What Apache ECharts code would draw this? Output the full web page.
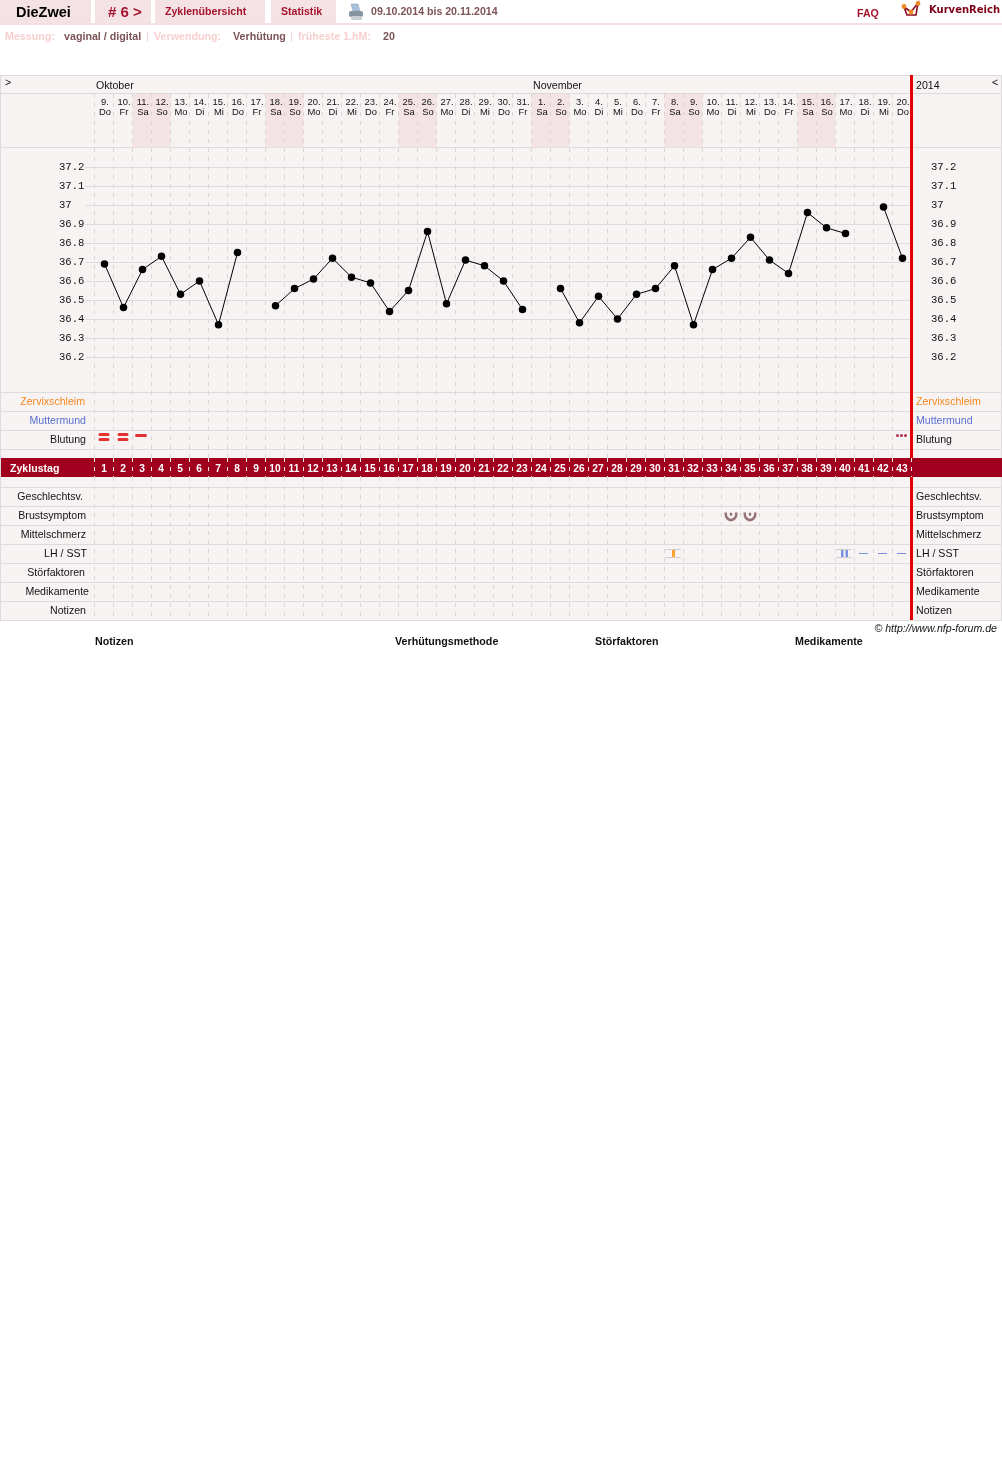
<!DOCTYPE html>
<html><head><meta charset="utf-8">
<style>html,body{margin:0;padding:0;background:#fff}#c{width:1002px;height:1480px}</style>
<script src="https://cdn.jsdelivr.net/npm/echarts@6/dist/echarts.min.js"></script>
</head><body><div id="c"></div>
<script>
const dayNums = ['9','10','11','12','13','14','15','16','17','18','19','20','21','22','23','24','25','26','27','28','29','30','31','1','2','3','4','5','6','7','8','9','10','11','12','13','14','15','16','17','18','19','20'];
const weekdays = ['Do','Fr','Sa','So','Mo','Di','Mi','Do','Fr','Sa','So','Mo','Di','Mi','Do','Fr','Sa','So','Mo','Di','Mi','Do','Fr','Sa','So','Mo','Di','Mi','Do','Fr','Sa','So','Mo','Di','Mi','Do','Fr','Sa','So','Mo','Di','Mi','Do'];
const cycleDays = ['1','2','3','4','5','6','7','8','9','10','11','12','13','14','15','16','17','18','19','20','21','22','23','24','25','26','27','28','29','30','31','32','33','34','35','36','37','38','39','40','41','42','43'];
const temperatures = [36.69,36.46,36.66,36.73,36.53,36.6,36.37,36.75,null,36.47,36.56,36.61,36.72,36.62,36.59,36.44,36.55,36.86,36.48,36.71,36.68,36.6,36.45,null,36.56,36.38,36.52,36.4,36.53,36.56,36.68,36.37,36.66,36.72,36.83,36.71,36.64,36.96,36.88,36.85,null,36.99,36.72];
const rowsUpper = ['Zervixschleim','Muttermund','Blutung'];
const rowsLower = ['Geschlechtsv.','Brustsymptom','Mittelschmerz','LH / SST','Störfaktoren','Medikamente','Notizen'];
const bleedingHeavy = ['1','2'];
const bleedingMedium = ['3'];
const bleedingSpot = ['43'];
const breastSymptom = ['34','35'];
const lhPeak = ['31'];
const lhDouble = ['40'];
const lhDash = ['41','42','43'];

const FONT = 'Liberation Sans, Arial, sans-serif';
const GRID_L = 94.5, GRID_W = 817;
const GREY = '#dcdada', BG = '#f8f3f3', SHADE = '#f3e3e5', DARK = '#a0001e', RED = '#e00000', BROWN = '#7d5358', PINK = '#f8cfcf', NAV = '#f4e2e4', NAVTXT = '#a5142c';
const labelColor = {'Zervixschleim':'#f5871f','Muttermund':'#5a70cf'};
const labelPad = {'Zervixschleim':4,'Muttermund':3,'Blutung':3,'Geschlechtsv.':6,'Brustsymptom':3,'Mittelschmerz':3,'LH / SST':2,'Störfaktoren':4,'Medikamente':0,'Notizen':3};

const SYM = {
  dbl: 'path://M1.5 0H9.5A1.5 1.5 0 0 1 9.5 3H1.5A1.5 1.5 0 0 1 1.5 0ZM1.5 5H9.5A1.5 1.5 0 0 1 9.5 8H1.5A1.5 1.5 0 0 1 1.5 5Z',
  one: 'path://M1.5 0H10.5A1.5 1.5 0 0 1 10.5 3H1.5A1.5 1.5 0 0 1 1.5 0Z',
  dots: 'path://M0 1.5A1.5 1.5 0 0 1 3 1.5A1.5 1.5 0 0 1 0 1.5ZM4 1.5A1.5 1.5 0 0 1 7 1.5A1.5 1.5 0 0 1 4 1.5ZM8 1.5A1.5 1.5 0 0 1 11 1.5A1.5 1.5 0 0 1 8 1.5Z',
  breast: 'path://M0 1L0 2.5A6.5 6.5 0 0 0 13 2.5L13 1L10.5 1L10.5 2.5A4 4 0 0 1 2.5 2.5L2.5 1ZM5.1 2.5A1.4 1.4 0 0 1 7.9 2.5A1.4 1.4 0 0 1 5.1 2.5Z',
  bracket: 'path://M0 0H15V1H0ZM0 8H15V9H0Z',
  twoBars: 'path://M0 0H2.5V7H0ZM4.5 0H7V7H4.5Z'
};

function txt(x,y,s,font,fill,align,extra){
  return Object.assign({type:'text',x,y,z:10,silent:true,style:{text:s,font,fill,textAlign:align||'left',textVerticalAlign:'middle'}},extra||{});
}
const B11='bold 10.6px '+FONT, B10='bold 10.7px '+FONT, N11='10.6px '+FONT;
const rowLines=[75.5,93.5,147.5,392.5,411.5,430.5,449.5,487.5,506.5,525.5,544.5,563.5,582.5,601.5,620.5];
const graphics=[
  {type:'rect',z:-5,shape:{x:0,y:75,width:1002,height:546},style:{fill:BG}},
  ...rowLines.map(y=>({type:'line',z:-1,shape:{x1:0,y1:y,x2:1002,y2:y},style:{stroke:GREY,lineWidth:1}})),
  {type:'line',z:-1,shape:{x1:.5,y1:75,x2:.5,y2:620},style:{stroke:GREY,lineWidth:1}},
  {type:'line',z:-1,shape:{x1:1001.5,y1:75,x2:1001.5,y2:620},style:{stroke:GREY,lineWidth:1}},
  {type:'rect',z:1,shape:{x:910,y:75,width:3,height:383},style:{fill:RED}},
  {type:'rect',z:1,shape:{x:910,y:477,width:3,height:143},style:{fill:RED}},
  {type:'rect',z:-1,shape:{x:1,y:458,width:1001,height:19},style:{fill:DARK}},
  txt(10,469,'Zyklustag',B11,'#fff'),
  // top navigation
  {type:'rect',z:1,shape:{x:0,y:23,width:1002,height:2},style:{fill:'#f4dfe2'}},
  ...[[0,91],[95,56],[155,110],[271,65]].map(r=>({type:'rect',z:1,shape:{x:r[0],y:0,width:r[1],height:23},style:{fill:NAV}})),
  txt(16,13,'DieZwei','bold 14.5px '+FONT,'#000'),
  txt(108,13,'# 6 >','bold 15px '+FONT,NAVTXT),
  txt(165,12.5,'Zyklenübersicht',B11,NAVTXT),
  txt(281,12.5,'Statistik',B11,NAVTXT),
  txt(371,12.5,'09.10.2014 bis 20.11.2014',B11,BROWN),
  txt(857,14.5,'FAQ',B11,NAVTXT),
  txt(929,10.5,'KurvenReich','bold 10px DejaVu Sans, sans-serif','#7d0018'),
  // printer icon
  {type:'polygon',z:2,shape:{points:[[351,4],[358,4],[360,11],[353,11]]},style:{fill:'#a9c0dc',stroke:'#8a9db5',lineWidth:.5}},
  {type:'rect',z:2,shape:{x:349,y:11,width:14,height:6,r:2},style:{fill:'#87939f'}},
  {type:'rect',z:2,shape:{x:351,y:16,width:11,height:4,r:1},style:{fill:'#c8ced4'}},
  // logo
  {type:'polyline',z:2,shape:{points:[[904,7],[907,15],[916,15],[918,3],[911,12],[904,7]]},style:{fill:'none',stroke:'#8c0a1e',lineWidth:1.6}},
  ...[[904,6.5],[911,12],[918,3.5]].map(p=>({type:'circle',z:3,shape:{cx:p[0],cy:p[1],r:2.4},style:{fill:'#f08a24'}})),
  // measurement row
  txt(5,37,'Messung:',B10,PINK), txt(64,37,'vaginal / digital',B10,BROWN),
  txt(146,37,'|',N11,PINK), txt(154,37,'Verwendung:',B10,PINK), txt(233,37,'Verhütung',B10,BROWN),
  txt(290,37,'|',N11,PINK), txt(298,37,'früheste 1.hM:',B10,PINK), txt(383,37,'20',B10,BROWN),
  // frame header
  txt(96,86,'Oktober',N11,'#111'), txt(533,86,'November',N11,'#111'), txt(916,86,'2014',N11,'#111'),
  txt(5,83,'>',N11,'#111'), txt(992,83,'<',N11,'#111'),
  // footer
  txt(997,629,'© http://www.nfp-forum.de','italic 10.6px '+FONT,'#111','right'),
  txt(95,642,'Notizen',B10,'#111'), txt(395,642,'Verhütungsmethode',B10,'#111'),
  txt(595,642,'Störfaktoren',B10,'#111'), txt(795,642,'Medikamente',B10,'#111')
];

const mkGrid=(top,height,left)=>({left:left||GRID_L,width:GRID_W,top,height,containLabel:false});
const dashed={show:true,lineStyle:{color:'#d8d6d6',type:[4,5],width:1}};
const hiddenX=(gridIndex)=>({type:'category',gridIndex,data:cycleDays,boundaryGap:true,show:false});
const bgX=(gridIndex)=>({type:'category',gridIndex,data:cycleDays,boundaryGap:true,axisLine:{show:false},axisTick:{show:false},axisLabel:{show:false},splitLine:Object.assign({interval:0},dashed)});
const hiddenY=(gridIndex)=>({type:'value',gridIndex,show:false,min:0,max:1});
const catY=(gridIndex,data,position)=>({
  type:'category',gridIndex,data,inverse:true,position,
  axisLine:{show:false},axisTick:{show:false},splitLine:{show:false},
  axisLabel: position==='left'
   ? {interval:0,margin:5.5,align:'right',
      formatter:v=>'{r'+data.indexOf(v)+'|'+v+'}',
      rich:Object.fromEntries(data.map((d,i)=>['r'+i,{fontFamily:FONT,fontSize:10.6,color:labelColor[d]||'#111',padding:[0,labelPad[d],0,0]}]))}
   : {interval:0,margin:4.5,align:'left',fontFamily:FONT,fontSize:10.6,color:v=>labelColor[v]||'#111'}
});
const tempAxis=(position,left)=>({
  type:'value',gridIndex:2,position,min:36.2,max:37.2,interval:0.1,
  axisLine:{show:false},
  axisTick:{show:left,length:9.5,lineStyle:{color:GREY}},
  splitLine:{show:left,lineStyle:{color:GREY,width:1}},
  axisLabel:{margin:left?36:19,align:'left',fontFamily:'Liberation Mono, monospace',fontSize:10.6,color:'#111',
    formatter:v=>String(Math.round(v*10)/10)}
});
const marks=(xAxisIndex,yAxisIndex,row,days,symbol,size,color,offset)=>({
  type:'scatter',xAxisIndex,yAxisIndex,symbol,symbolSize:size,symbolOffset:offset||[0,0],
  itemStyle:{color},silent:true,data:days.map(d=>[d,row]),z:4
});

const option={
  animation:false,
  backgroundColor:'#fff',
  graphic:{elements:graphics},
  grid:[mkGrid(94,364),mkGrid(94,53.5),mkGrid(167,190,95),mkGrid(458,19),mkGrid(477,143.5),mkGrid(392.5,57),mkGrid(487.5,133)],
  xAxis:[
    bgX(0),
    {type:'category',gridIndex:1,position:'top',data:dayNums.map((d,i)=>d+'.\n'+weekdays[i]),boundaryGap:true,
      axisLine:{show:false},axisTick:{show:false},splitLine:{show:false},
      axisLabel:{interval:0,inside:true,margin:3,padding:[0,0,0,2],fontFamily:FONT,fontSize:9.4,lineHeight:10,color:'#111'}},
    hiddenX(2),
    {type:'category',gridIndex:3,data:cycleDays,boundaryGap:true,
      axisLine:{show:false},axisTick:{show:false},
      splitLine:{show:true,interval:0,lineStyle:{color:'#f4e8ea',type:[4,5],width:1}},
      axisLabel:{interval:0,inside:true,margin:3,fontFamily:FONT,fontSize:10.2,fontWeight:'bold',color:'#fff'}},
    bgX(4),
    hiddenX(5),
    hiddenX(6)
  ],
  yAxis:[
    hiddenY(0),hiddenY(1),
    tempAxis('left',true),tempAxis('right',false),
    hiddenY(3),hiddenY(4),
    catY(5,rowsUpper,'left'),catY(5,rowsUpper,'right'),
    catY(6,rowsLower,'left'),catY(6,rowsLower,'right')
  ],
  series:[
    {type:'bar',xAxisIndex:1,yAxisIndex:1,z:-1,silent:true,barWidth:'100%',itemStyle:{color:SHADE},
      data:weekdays.map(w=>(w==='Sa'||w==='So')?1:null)},
    {type:'line',xAxisIndex:2,yAxisIndex:2,data:temperatures,connectNulls:false,showAllSymbol:true,symbol:'circle',symbolSize:7.5,
      lineStyle:{color:'#000',width:1},itemStyle:{color:'#000'},silent:true,z:4},
    marks(5,6,'Blutung',bleedingHeavy,SYM.dbl,[11,8],'#dd0000',[0,-3]),
    marks(5,6,'Blutung',bleedingMedium,SYM.one,[12,3],'#dd0000',[-1,-4.5]),
    marks(5,6,'Blutung',bleedingSpot,SYM.dots,[11,3],'#a00020',[-0.5,-4.5]),
    marks(6,8,'Brustsymptom',breastSymptom,SYM.breast,[13,9],BROWN,[0,1]),
    marks(6,8,'LH / SST',lhPeak.concat(lhDouble),SYM.bracket,[15,9],'#c4c4c4',[-1,-0.5]),
    marks(6,8,'LH / SST',lhPeak,'rect',[3,7],'#ff8c00',[-0.5,-0.5]),
    marks(6,8,'LH / SST',lhDouble,SYM.twoBars,[7,7],'#5a78d8',[-0.5,-0.5]),
    marks(6,8,'LH / SST',lhDash,'rect',[9,1],'#5a78d8',[-0.5,-0.5])
  ]
};
echarts.init(document.getElementById('c'),null,{renderer:'canvas',width:1002,height:1480}).setOption(option);
</script></body></html>
